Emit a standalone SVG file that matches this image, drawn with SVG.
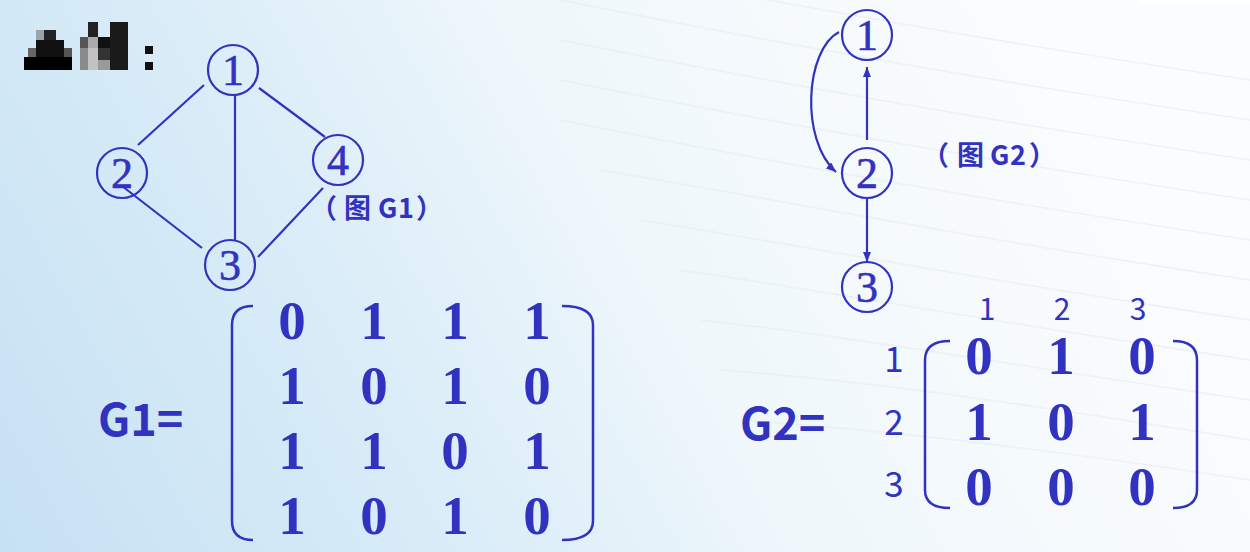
<svg xmlns="http://www.w3.org/2000/svg" width="1250" height="552" viewBox="0 0 1250 552">
<defs>
<linearGradient id="bg" x1="0" y1="552" x2="1000" y2="0" gradientUnits="userSpaceOnUse">
<stop offset="0" stop-color="#c6e1f3"/>
<stop offset="0.35" stop-color="#d9ecf8"/>
<stop offset="0.62" stop-color="#eff7fb"/>
<stop offset="1" stop-color="#fafcfe"/>
</linearGradient>
<marker id="arr" viewBox="0 0 10 8" refX="10" refY="4" markerWidth="10" markerHeight="8" markerUnits="userSpaceOnUse" orient="auto">
<path d="M0,0 L10,4 L0,8 Z" fill="#3232c0"/>
</marker>
<style>
.node circle{fill:none;stroke:#3232c0;stroke-width:2.2}
.node text{font-family:"Liberation Serif","Times New Roman",serif;font-size:44px;fill:#3232c0;text-anchor:middle;stroke:#3232c0;stroke-width:0.6}
.edge{stroke:#3232c0;stroke-width:2.2;fill:none}
.lbl{font-family:"Noto Sans CJK SC","Noto Sans",sans-serif;font-weight:bold;font-size:27px;fill:#3232c0}
.gname{font-family:"Noto Sans CJK SC","Noto Sans",sans-serif;font-weight:bold;font-size:45px;fill:#3232c0}
.m{font-family:"Liberation Serif","Times New Roman",serif;font-weight:bold;font-size:55px;fill:#3232c0;text-anchor:middle}
.idx{font-family:"Noto Sans CJK SC","Noto Sans",sans-serif;font-size:35px;fill:#3232c0;text-anchor:middle}
.idxc{font-family:"Noto Sans CJK SC","Noto Sans",sans-serif;font-size:30px;fill:#3232c0;text-anchor:middle}
.br{stroke:#3232c0;stroke-width:2.5;fill:none}
.wave{stroke:#dfe7ee;stroke-width:1.6;fill:none;opacity:0.45}
</style>
</defs>
<rect x="0" y="0" width="1250" height="552" fill="url(#bg)"/>
<g id="waves">
<path class="wave" d="M560,-40 C760,0 980,40 1250,80"/>
<path class="wave" d="M560,0 C760,40 980,80 1250,120"/>
<path class="wave" d="M560,40 C760,80 980,120 1250,160"/>
<path class="wave" d="M560,80 C760,120 980,160 1250,200"/>
<path class="wave" d="M560,120 C760,160 980,200 1250,240"/>
<path class="wave" d="M600,170 C780,200 980,240 1250,280"/>
<path class="wave" d="M640,220 C800,245 980,280 1250,320"/>
<path class="wave" d="M680,270 C820,290 980,320 1250,360"/>
<path class="wave" d="M700,320 C840,335 980,360 1250,400"/>
<path class="wave" d="M720,370 C860,380 1000,400 1250,440"/>
<path class="wave" d="M740,420 C880,430 1020,445 1250,480"/>
</g>
<rect x="1140" y="0" width="110" height="4" fill="#ffffff"/>
<g id="mosaic">
<rect x="44" y="30" width="12" height="10" fill="#222"/>
<rect x="36" y="30" width="8" height="10" fill="#777" opacity="0.6"/>
<rect x="36" y="40" width="28" height="17" fill="#111"/>
<rect x="64" y="48" width="8" height="9" fill="#555"/>
<rect x="28" y="48" width="8" height="9" fill="#666"/>
<rect x="24" y="57" width="48" height="13" fill="#000"/>
<rect x="80" y="37" width="8" height="11" fill="#555"/>
<rect x="80" y="48" width="8" height="22" fill="#8a8a8a"/>
<rect x="88" y="22" width="10" height="15" fill="#222"/>
<rect x="88" y="37" width="10" height="11" fill="#aaa"/>
<rect x="88" y="48" width="10" height="22" fill="#c2c2c2"/>
<rect x="98" y="37" width="12" height="11" fill="#111"/>
<rect x="98" y="48" width="12" height="12" fill="#333"/>
<rect x="98" y="60" width="12" height="10" fill="#999"/>
<rect x="110" y="22" width="18" height="48" fill="#1a1a1a"/>
<rect x="145" y="46" width="8" height="8" fill="#111"/>
<rect x="145" y="62" width="8" height="8" fill="#111"/>
</g>
<g id="connectors">
<line class="edge" x1="204" y1="85" x2="138" y2="145"/>
<line class="edge" x1="235" y1="95" x2="235" y2="240"/>
<line class="edge" x1="259" y1="88" x2="325" y2="137"/>
<line class="edge" x1="122" y1="186" x2="202" y2="248"/>
<line class="edge" x1="323" y1="188" x2="258" y2="257"/>
<line class="edge" x1="867" y1="140" x2="867" y2="67" marker-end="url(#arr)"/>
<line class="edge" x1="867" y1="198" x2="867" y2="262" marker-end="url(#arr)"/>
<path class="edge" d="M839,32 C805,50 800,140 836,172" marker-end="url(#arr)"/>
</g>
<g id="g1-n1" class="node"><circle cx="233" cy="70" r="25"/><text x="233" y="85">1</text></g>
<g id="g1-n2" class="node"><circle cx="122" cy="173" r="25"/><text x="122" y="188">2</text></g>
<g id="g1-n3" class="node"><circle cx="230" cy="265" r="25"/><text x="230" y="280">3</text></g>
<g id="g1-n4" class="node"><circle cx="338" cy="160" r="25"/><text x="338" y="175">4</text></g>
<g id="g2-n1" class="node"><circle cx="867" cy="35" r="25"/><text x="867" y="50">1</text></g>
<g id="g2-n2" class="node"><circle cx="867" cy="173" r="25"/><text x="867" y="188">2</text></g>
<g id="g2-n3" class="node"><circle cx="867" cy="287" r="25"/><text x="867" y="302">3</text></g>
<text class="lbl" x="310 344 378 398 416" y="218">（图G1）</text>
<text class="lbl" x="922 957 990 1010 1029" y="165">（图G2）</text>
<g id="matrix-g1">
<text class="gname" x="98" y="436">G1=</text>
<path class="br" d="M253,306 Q232,306 232,325 L232,521 Q232,540 253,540"/>
<path class="br" d="M562,306 Q593,306 593,325 L593,521 Q593,540 562,540"/>
<text class="m" x="292" y="339">0</text><text class="m" x="374" y="339">1</text><text class="m" x="455" y="339">1</text><text class="m" x="537" y="339">1</text>
<text class="m" x="292" y="404">1</text><text class="m" x="374" y="404">0</text><text class="m" x="455" y="404">1</text><text class="m" x="537" y="404">0</text>
<text class="m" x="292" y="469">1</text><text class="m" x="374" y="469">1</text><text class="m" x="455" y="469">0</text><text class="m" x="537" y="469">1</text>
<text class="m" x="292" y="534">1</text><text class="m" x="374" y="534">0</text><text class="m" x="455" y="534">1</text><text class="m" x="537" y="534">0</text>
</g>
<g id="matrix-g2">
<text class="gname" x="740" y="440">G2=</text>
<text class="idxc" x="987" y="320">1</text><text class="idxc" x="1062" y="320">2</text><text class="idxc" x="1138" y="320">3</text>
<text class="idx" x="894" y="372">1</text><text class="idx" x="894" y="435">2</text><text class="idx" x="894" y="497">3</text>
<path class="br" d="M950,341 Q925,341 925,360 L925,490 Q925,508 950,508"/>
<path class="br" d="M1173,341 Q1197,341 1197,360 L1197,490 Q1197,508 1173,508"/>
<text class="m" x="979" y="374">0</text><text class="m" x="1061" y="374">1</text><text class="m" x="1142" y="374">0</text>
<text class="m" x="979" y="440">1</text><text class="m" x="1061" y="440">0</text><text class="m" x="1142" y="440">1</text>
<text class="m" x="979" y="505">0</text><text class="m" x="1061" y="505">0</text><text class="m" x="1142" y="505">0</text>
</g>
</svg>
